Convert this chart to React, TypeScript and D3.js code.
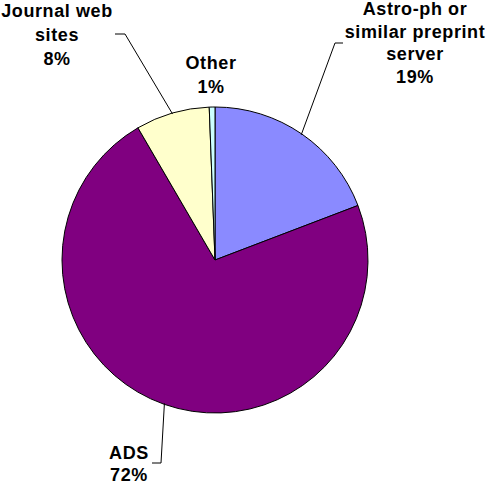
import React from 'react';
import * as d3 from 'd3';

// share of use, clockwise from 12 o'clock
const sources = ['Astro-ph or similar preprint server', 'ADS', 'Journal web sites', 'Other'];
const shares = [19.2, 72.4, 7.8, 0.6];
const colors = ['#8a8aff', '#800080', '#ffffcc', '#ccffff'];

// label text lines (name lines, the % line is added from the data)
const labelLines = [
  ['Astro-ph or', 'similar preprint', 'server'],
  ['ADS'],
  ['Journal web', 'sites'],
  ['Other'],
];

const W = 486;
const H = 484;
const cx = 215;
const cy = 260;
const R = 153;

// where each label block sits, and the bend of its leader line
const labelPos = [
  { x: 415, y: 15, dy: 22.5, bend: [[335, 43], [343, 43]] },
  { x: 129, y: 459, dy: 21.5, bend: [[161, 463], [152, 463]] },
  { x: 57, y: 17, dy: 24, bend: [[125, 34], [115, 34]] },
  { x: 211, y: 69, dy: 24, bend: null },
];

function App() {
  const pie = d3.pie<number>().sort(null).value((d) => d);
  const arcs = pie(shares);
  const arc = d3.arc<d3.PieArcDatum<number>>().innerRadius(0).outerRadius(R);

  return (
    <svg width={W} height={H} style={{ position: 'absolute', left: 0, top: 0, background: '#fff' }}>
      <g transform={`translate(${cx},${cy})`}>
        {arcs.map((a, i) => (
          <path key={i} d={arc(a) || ''} fill={colors[i]} stroke="#000" strokeWidth={1} />
        ))}
      </g>
      {arcs.map((a, i) => {
        const p = labelPos[i];
        if (!p.bend) return null;
        const mid = (a.startAngle + a.endAngle) / 2;
        const ex = cx + Math.sin(mid) * (R - 1);
        const ey = cy - Math.cos(mid) * (R - 1);
        const pts = [[ex, ey], ...p.bend];
        return (
          <polyline
            key={'l' + i}
            points={pts.map((q) => q.join(',')).join(' ')}
            fill="none"
            stroke="#000"
            strokeWidth={1}
          />
        );
      })}
      {labelLines.map((lines, i) => {
        const p = labelPos[i];
        const all = [...lines, `${Math.round(shares[i])}%`];
        return (
          <text
            key={'t' + i}
            textAnchor="middle"
            fontFamily="'Liberation Sans', Arial, sans-serif"
            fontWeight="bold"
            fontSize={18}
            letterSpacing={0.6}
            fill="#000"
          >
            {all.map((s, j) => (
              <tspan key={j} x={p.x} y={p.y + j * p.dy}>
                {s}
              </tspan>
            ))}
          </text>
        );
      })}
    </svg>
  );
}

export default App;
